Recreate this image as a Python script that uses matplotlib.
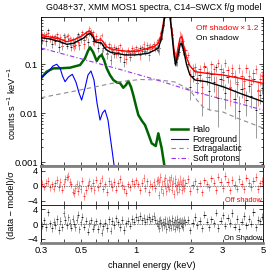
"""G048+37 XMM MOS1 spectra with residual panels."""

import matplotlib
matplotlib.use("Agg")
import matplotlib.pyplot as plt
from matplotlib.lines import Line2D
import numpy as np

plt.rcParams["font.family"] = ["Liberation Sans", "DejaVu Sans"]

# model components (keV, counts/s/keV)
halo_E = [0.300, 0.322, 0.351, 0.382, 0.433, 0.492, 0.524, 0.544, 0.558, 0.580,
          0.608, 0.626, 0.647, 0.667, 0.690, 0.719, 0.750, 0.786, 0.816, 0.851,
          0.881, 0.907, 0.939, 0.966, 1.000, 1.030, 1.079, 1.121, 1.164, 1.220,
          1.284, 1.327, 1.385, 1.431, 1.463]
halo_v = [0.0511, 0.0697, 0.0817, 0.0817, 0.0841, 0.0954, 0.1307, 0.184, 0.219, 0.1758,
          0.1151, 0.139, 0.1526, 0.1207, 0.0817, 0.0596, 0.0472, 0.0419, 0.0410, 0.0328,
          0.0373, 0.0450, 0.0339, 0.0233, 0.0139, 0.0091, 0.00687, 0.00569, 0.00391, 0.00241,
          0.00212, 0.00385, 0.00190, 0.00087, 0.00054]

fg_E = [0.300, 0.328, 0.349, 0.366, 0.382, 0.394, 0.407, 0.425, 0.446, 0.467,
        0.486, 0.502, 0.524, 0.544, 0.565, 0.587, 0.610, 0.634, 0.654, 0.675,
        0.701, 0.719, 0.738, 0.757, 0.776]
fg_v = [0.0518, 0.0687, 0.0910, 0.0986, 0.0829, 0.0569, 0.0435, 0.0543, 0.0617, 0.0429,
        0.0256, 0.0184, 0.0324, 0.0596, 0.0720, 0.0472, 0.0160, 0.0072, 0.0100, 0.0115,
        0.0072, 0.00356, 0.00176, 0.00087, 0.00043]

exgal_E = [0.300, 0.492, 0.816, 1.052, 1.355, 1.639, 1.982, 2.166, 2.337, 2.554,
           3.012, 3.597, 4.241, 5.0]
exgal_v = [0.0205, 0.0295, 0.0435, 0.0483, 0.0472, 0.0429, 0.0295, 0.0184, 0.01326, 0.0115,
           0.01048, 0.0079, 0.00625, 0.00494]

sp_E = [0.300, 0.492, 0.800, 1.305, 2.112, 3.29, 5.0]
sp_v = [0.212, 0.1295, 0.0791, 0.0472, 0.0268, 0.0176, 0.0115]

# total models
mod_E = [0.300, 0.336, 0.382, 0.416, 0.452, 0.479, 0.513, 0.537, 0.558, 0.580,
         0.595, 0.618, 0.647, 0.667, 0.690, 0.728, 0.783, 0.870, 0.987, 1.164,
         1.272, 1.327, 1.373, 1.417, 1.463, 1.491, 1.519, 1.568, 1.619, 1.650,
         1.703, 1.747, 1.785, 1.826, 1.901, 1.982, 2.112, 2.450, 3.012, 3.735, 5.0]
on_model = [0.344, 0.324, 0.285, 0.252, 0.264, 0.295, 0.335, 0.391, 0.423, 0.356,
            0.285, 0.275, 0.264, 0.222, 0.193, 0.172, 0.165, 0.153, 0.153, 0.165,
            0.193, 0.212, 0.309, 0.625, 1.39, 2.02, 1.39, 0.494, 0.153, 0.0954,
            0.153, 0.244, 0.264, 0.193, 0.0954, 0.0596, 0.0472, 0.0435, 0.0344, 0.0252, 0.0170]
off_model = [0.378, 0.356, 0.324, 0.285, 0.309, 0.339, 0.391, 0.450, 0.472, 0.391,
             0.309, 0.309, 0.309, 0.268, 0.225, 0.202, 0.193, 0.184, 0.178, 0.209,
             0.233, 0.264, 0.373, 0.72, 1.53, 2.22, 1.53, 0.543, 0.193, 0.1114,
             0.212, 0.339, 0.361, 0.244, 0.1325, 0.091, 0.0697, 0.0646, 0.0596, 0.0511, 0.0404]

# spectral bins (keV) and residuals (data - model)/sigma
bin_E = [0.304, 0.312, 0.320, 0.328, 0.336, 0.344, 0.352, 0.360, 0.368, 0.376,
         0.384, 0.392, 0.400, 0.408, 0.416, 0.424, 0.432, 0.440, 0.448, 0.456,
         0.464, 0.472, 0.480, 0.488, 0.496,
         0.506, 0.518, 0.530, 0.542, 0.554, 0.566, 0.578, 0.590, 0.604, 0.618,
         0.632, 0.646, 0.660, 0.676, 0.692, 0.708, 0.724, 0.742, 0.760, 0.778,
         0.798, 0.818, 0.838, 0.860, 0.882, 0.904, 0.928, 0.952, 0.976,
         1.000, 1.025, 1.050, 1.075, 1.100, 1.125, 1.150, 1.175, 1.200, 1.225,
         1.250, 1.275, 1.300,
         1.315, 1.330, 1.345, 1.360, 1.375, 1.390, 1.405, 1.420, 1.435, 1.450,
         1.465, 1.480, 1.495, 1.510, 1.525, 1.540, 1.555, 1.570, 1.585, 1.600,
         1.615, 1.630, 1.645, 1.660, 1.675, 1.690, 1.705, 1.720, 1.735, 1.750,
         1.765, 1.780, 1.795, 1.810, 1.825, 1.840,
         1.87, 1.93, 1.99, 2.05, 2.11, 2.17, 2.24, 2.31, 2.38, 2.45,
         2.52, 2.60, 2.68, 2.76, 2.84, 2.92, 3.01, 3.10, 3.19, 3.29,
         3.39, 3.49, 3.59, 3.70, 3.81, 3.93, 4.05, 4.17, 4.30, 4.43,
         4.56, 4.70, 4.84, 4.96]
off_resid = [0.5, -0.3, 0.8, 1.2, -0.5, 0.3, -0.8, 0.6, 1.5, -0.4,
             0.9, -1.1, 0.4, 1.7, 2.2, 2.5, 1.0, 0.3, -1.6, -2.0,
             -0.7, 0.4, -1.4, 0.2, -0.9,
             1.3, -2.8, -1.2, 0.2, 1.1, -0.6, 0.8, -1.2, 1.6, -0.5,
             0.7, 1.9, -0.8, 0.3, -1.7, 1.2, 0.5, -0.4, 1.0, -1.1,
             0.6, 1.8, 0.2, -0.9, -1.9, 0.3, -0.5, 1.1, 0.4,
             1.4, 0.3, -1.3, 0.8, 2.0, -0.6, 1.1, -1.8, 0.4, -0.2,
             0.9, -0.7, 1.2,
             1.5, -2.5, 0.9, 2.3, -1.0, 0.5, -1.9, 1.2, 0.0, 2.1,
             -1.4, 0.7, -0.3, 1.6, -0.8, 0.9, 2.2, -1.1, 0.4, 1.3,
             -2.2, 0.6, 1.8, -0.5, 0.2, -1.6, 1.0, 0.3, -0.9, 1.7,
             0.5, -1.3, 0.8, -0.2, 1.4, -0.7,
             0.8, 1.7, -1.5, 0.2, 1.1, -0.9, 0.6, -1.8, 1.4, 0.3,
             -0.5, 1.9, 0.8, -1.2, 2.4, 1.0, -0.6, 2.6, 0.9, -1.3,
             1.5, 0.2, -0.8, 1.8, 0.4, -1.0, 2.1, 0.7, -0.4, 1.3,
             2.3, -0.9, 0.6, 1.2]
on_resid = [-0.5, 1.0, -0.8, 3.2, 0.2, -1.2, 0.6, -0.3, 1.4, -1.6,
            0.8, -0.9, 2.9, 1.1, -0.4, 1.8, 0.3, -1.0, 1.5, 0.1,
            -0.9, 1.2, 2.6, -1.5, 0.5,
            2.0, -0.7, 0.9, -2.1, 0.2, 1.0, -1.3, -0.2, 0.7, -1.4,
            0.3, -2.4, -0.6, 0.4, -1.1, 1.3, -1.8, 0.8, -0.3, 1.6,
            0.5, -0.8, 1.1, -1.6, 0.2, 0.9, -0.5, 1.4, 0.6,
            1.9, 1.2, 2.2, 1.0, 1.7, 0.6, 1.4, 2.0, 0.9, 1.5,
            2.3, 1.1, 0.4,
            -0.5, 0.8, -1.2, 1.1, 0.3, -0.9, 0.6, -0.3, 1.3, 0.2,
            -1.4, 0.9, 0.1, -0.8, 1.2, 0.4, -1.0, 0.7, 1.6, -0.6,
            0.5, -1.3, 1.1, 0.2, -0.7, 1.4, -0.2, 0.6, -1.1, 0.9,
            0.3, -0.5, 1.0, -0.8, 0.4, 1.2,
            0.5, 1.1, -1.7, 0.3, 1.9, -0.4, 0.8, -1.2, 2.6, 0.6,
            -0.9, 1.3, 0.2, 3.1, -1.1, 0.9, 2.4, -0.5, 1.7, 0.3,
            3.0, -0.7, 1.4, -1.3, 0.6, 2.2, -0.4, 1.5, 0.1, 3.3,
            -0.9, 1.2, 0.7, 2.0]

# fractional 1-sigma errors vs energy
sig_E = [0.3, 0.5, 0.8, 1.2, 1.45, 1.8, 2.2, 3.0, 5.0]
off_sig = [0.15, 0.13, 0.16, 0.16, 0.09, 0.14, 0.27, 0.32, 0.36]
on_sig = [0.16, 0.14, 0.17, 0.17, 0.10, 0.16, 0.36, 0.42, 0.45]


def logi(x, xp, fp):
    return np.exp(np.interp(np.log(x), np.log(xp), np.log(fp)))


E = np.array(bin_E)
mids = np.sqrt(E[1:] * E[:-1])
lo = E - np.concatenate([[0.3], mids])
hi = np.concatenate([mids, [5.0]]) - E

fig = plt.figure(figsize=(2.74, 2.74), dpi=100)
L, W = 41 / 274, 222 / 274
ax = fig.add_axes([L, 1 - 166 / 274, W, 149 / 274])
ax_r1 = fig.add_axes([L, 1 - 205 / 274, W, 39 / 274])
ax_r2 = fig.add_axes([L, 1 - 243 / 274, W, 38 / 274])

red, redlt = "#ff0000", "#ff8080"
blk, blklt = "#000000", "#8c8c8c"

for resid, model, sig, c, clt in [(on_resid, on_model, on_sig, blk, blklt),
                                 (off_resid, off_model, off_sig, red, redlt)]:
    m = logi(E, mod_E, model)
    s = m * np.interp(E, sig_E, sig)
    d = np.maximum(m + np.array(resid) * s, 1e-4)
    ax.errorbar(E, d, yerr=s, fmt="none", ecolor=clt, elinewidth=0.6)
    ax.errorbar(E, d, xerr=[lo, hi], fmt="none", ecolor=c, elinewidth=0.6)

ax.plot(mod_E, off_model, color=red, lw=1.0)
ax.plot(mod_E, on_model, color=blk, lw=1.0)
ax.plot(halo_E, halo_v, color="#006400", lw=1.8)
ax.plot(fg_E, fg_v, color="#0000ff", lw=0.8)
ax.plot(exgal_E, exgal_v, color="#8c8c8c", lw=0.8, dashes=(4, 3))
ax.plot(sp_E, sp_v, color="#9933ee", lw=0.8, dashes=(4, 2, 1, 2))

ax.set_xscale("log")
ax.set_yscale("log")
ax.set_ylim(8.3e-4, 0.91)
ax.set_yticks([0.001, 0.01, 0.1])
ax.set_yticklabels(["0.001", "0.01", "0.1"])

handles = [Line2D([], [], color="#006400", lw=1.8),
           Line2D([], [], color="#0000ff", lw=0.8),
           Line2D([], [], color="#8c8c8c", lw=0.8, dashes=(4, 3)),
           Line2D([], [], color="#9933ee", lw=0.8, dashes=(4, 2, 1, 2))]
ax.legend(handles, ["Halo", "Foreground", "Extragalactic", "Soft protons"],
          loc="lower left", frameon=False, fontsize=6.2, handlelength=2.0,
          labelspacing=0.05, borderaxespad=0.0, handletextpad=0.5,
          bbox_to_anchor=(0.57, 0.0))
ax.text(0.70, 0.925, "Off shadow\u2009×\u20091.2", color=red, fontsize=6.0,
        transform=ax.transAxes, va="center",
        family=["Liberation Sans", "DejaVu Sans"])
ax.text(0.70, 0.858, "On shadow", color=blk, fontsize=6.0,
        transform=ax.transAxes, va="center")

for a, resid, c, clt, lab in [(ax_r1, off_resid, red, redlt, "Off shadow"),
                              (ax_r2, on_resid, blk, blklt, "On Shadow")]:
    a.errorbar(E, resid, yerr=1, fmt="none", ecolor=clt, elinewidth=0.6)
    a.errorbar(E, resid, xerr=[lo, hi], fmt="none", ecolor=c, elinewidth=0.6)
    a.axhline(0, color="k", lw=0.5, ls=(0, (1, 1.5)))
    a.set_xscale("log")
    a.set_ylim(-5.2, 5.2)
    a.set_yticks([-4, 0, 4])
    a.text(0.995, 0.03, lab, color=c, fontsize=5.3, ha="right", va="bottom",
           transform=a.transAxes)

xt = [0.3, 0.4, 0.5, 0.6, 0.7, 0.8, 0.9, 1, 2, 3, 4, 5]
for a in (ax, ax_r1, ax_r2):
    a.set_xlim(0.3, 5)
    a.set_xticks(xt)
    a.set_xticks([], minor=True)
    a.tick_params(which="both", direction="in", top=True, right=True,
                  labelsize=6.8, pad=2, width=0.5)
    a.tick_params(which="major", length=3)
    a.tick_params(which="minor", length=1.5)
    for sp in a.spines.values():
        sp.set_linewidth(0.6)
ax.tick_params(labelbottom=False)
ax_r1.tick_params(labelbottom=False)
ax_r2.set_xticklabels(["0.3", "", "0.5", "", "", "", "", "1", "2", "3", "", "5"])

gray = "#808080"
ax.spines["bottom"].set(color=gray, linewidth=2)
ax_r1.spines["top"].set(color=gray, linewidth=2)
ax_r2.spines["bottom"].set(color=gray, linewidth=2)

fig.text(0.56, 1 - 7 / 274, "G048+37, XMM MOS1 spectra, C14–SWCX f/g model",
         ha="center", va="center", fontsize=6.4)
fig.text(12 / 274, 1 - 104 / 274, "counts s$^{-1}$ keV$^{-1}$", rotation=90,
         ha="center", va="center", fontsize=6.6)
fig.text(12 / 274, 1 - 205 / 274, "(data − model)/σ", rotation=90,
         ha="center", va="center", fontsize=6.6)
fig.text(152 / 274, 1 - 265 / 274, "channel energy (keV)", ha="center",
         va="center", fontsize=6.6)

fig.savefig("out.png", dpi=100)
